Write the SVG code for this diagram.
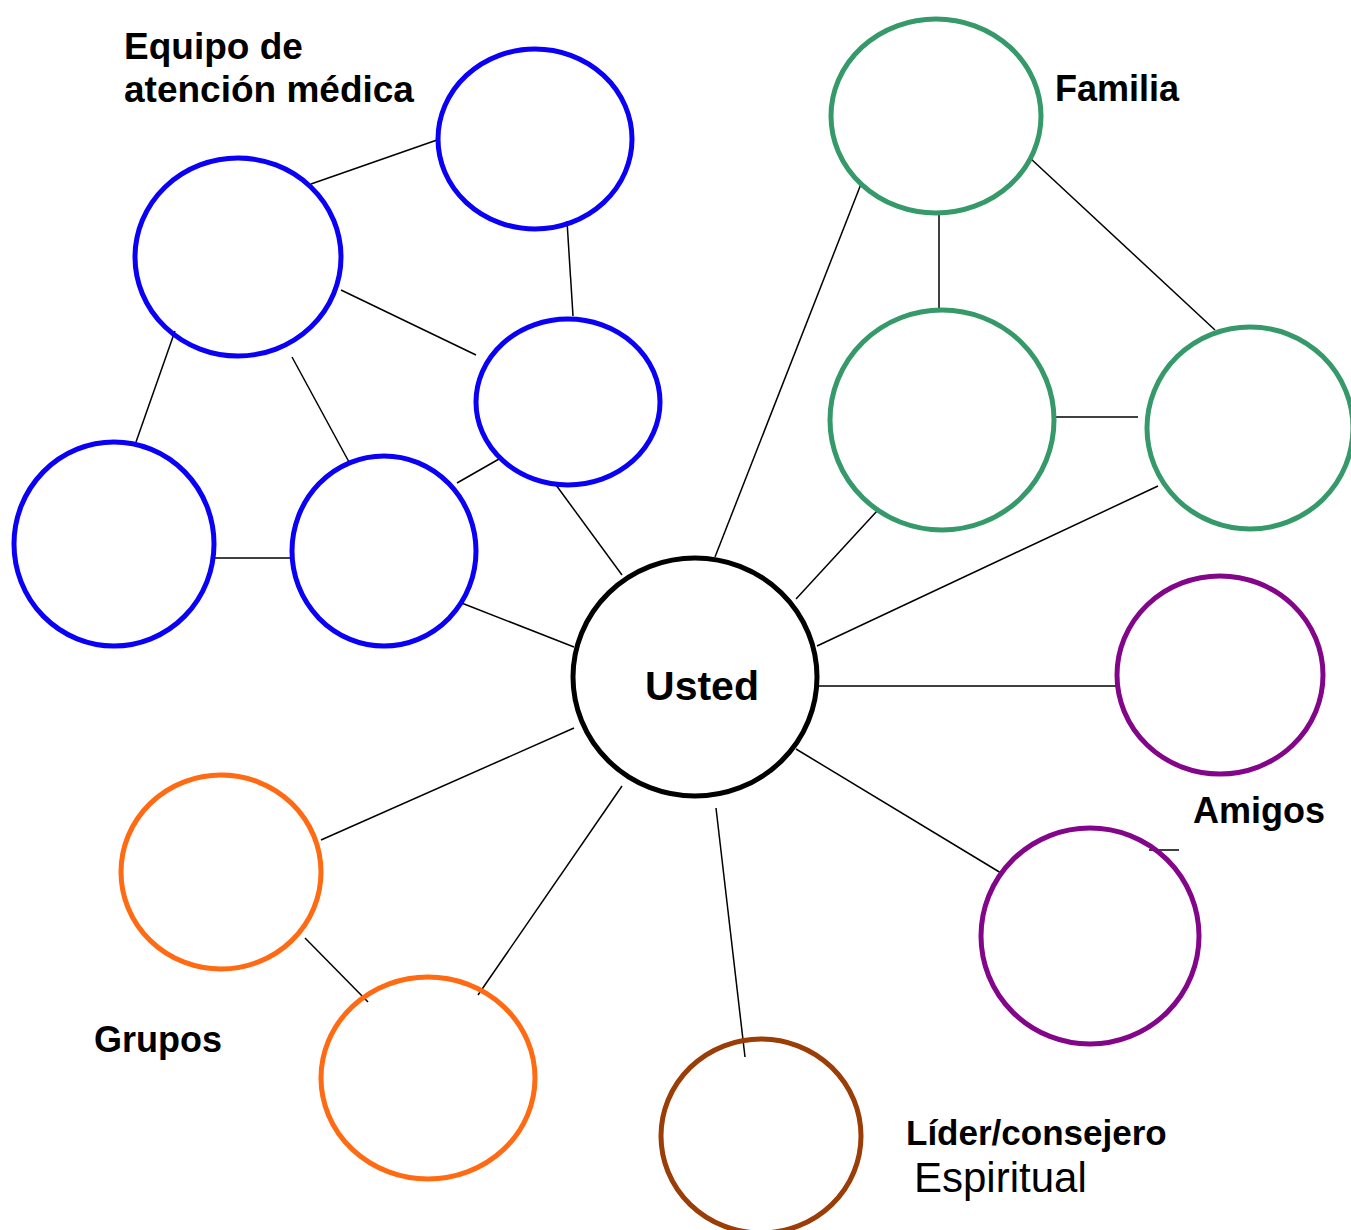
<svg xmlns="http://www.w3.org/2000/svg" width="1351" height="1230" viewBox="0 0 1351 1230">
<style>
.n{fill:none;stroke-width:5}
.b{stroke:#0a00f5}
.g{stroke:#36996a}
.p{stroke:#83068a}
.o{stroke:#ff6a12}
.r{stroke:#9a3d06}
.k{stroke:#000}
.c line{stroke:#000;stroke-width:1.5}
text{font-family:"Liberation Sans",Arial,sans-serif;fill:#000}
.t{font-weight:bold;font-size:36px}
.e{font-size:37px}
</style>
<rect width="1351" height="1230" fill="#fff"/>
<g id="connectors" class="c">
<line x1="311" y1="184" x2="437" y2="140"/>
<line x1="567" y1="221" x2="573" y2="316"/>
<line x1="341" y1="290" x2="476" y2="355"/>
<line x1="175" y1="331" x2="136" y2="442"/>
<line x1="292" y1="357" x2="349" y2="462"/>
<line x1="215" y1="558" x2="292" y2="558"/>
<line x1="457" y1="483" x2="499" y2="459"/>
<line x1="556" y1="485" x2="622" y2="575"/>
<line x1="459" y1="602" x2="574" y2="647"/>
<line x1="715" y1="557" x2="861" y2="184"/>
<line x1="939" y1="213" x2="939" y2="310"/>
<line x1="1030" y1="158" x2="1215" y2="330"/>
<line x1="1056" y1="417" x2="1138" y2="417"/>
<line x1="796" y1="599" x2="877" y2="511"/>
<line x1="817" y1="646" x2="1158" y2="486"/>
<line x1="819" y1="686" x2="1117" y2="686"/>
<line x1="796" y1="749" x2="1001" y2="873"/>
<line x1="1149" y1="850" x2="1179" y2="850"/>
<line x1="574" y1="728" x2="321" y2="840"/>
<line x1="622" y1="786" x2="478" y2="995"/>
<line x1="716" y1="808" x2="745" y2="1057"/>
<line x1="305" y1="938" x2="368" y2="1002"/>
</g>
<g id="med1"><ellipse class="n b" cx="535" cy="139" rx="97" ry="90"/></g>
<g id="med2"><ellipse class="n b" cx="238" cy="257" rx="103" ry="99"/></g>
<g id="med3"><ellipse class="n b" cx="568" cy="402" rx="92" ry="83"/></g>
<g id="med4"><ellipse class="n b" cx="114" cy="544" rx="100" ry="102"/></g>
<g id="med5"><ellipse class="n b" cx="384" cy="551" rx="92" ry="95"/></g>
<g id="fam1"><ellipse class="n g" cx="936" cy="116" rx="105" ry="97"/></g>
<g id="fam2"><ellipse class="n g" cx="942" cy="420" rx="112" ry="110"/></g>
<g id="fam3"><ellipse class="n g" cx="1250" cy="428" rx="103" ry="101"/></g>
<g id="usted"><ellipse class="n k" cx="695" cy="677" rx="122" ry="119"/><text x="702" y="700" text-anchor="middle" font-weight="bold" font-size="41">Usted</text></g>
<g id="ami1"><ellipse class="n p" cx="1220" cy="675" rx="103" ry="99"/></g>
<g id="ami2"><ellipse class="n p" cx="1090" cy="936" rx="109" ry="108"/></g>
<g id="gru1"><ellipse class="n o" cx="221" cy="872" rx="100" ry="97"/></g>
<g id="gru2"><ellipse class="n o" cx="428" cy="1078" rx="107" ry="101"/></g>
<g id="lider"><ellipse class="n r" cx="761" cy="1136" rx="100" ry="97"/></g>
<g id="labels">
<text class="t e" x="124" y="59">Equipo de</text>
<text class="t e" x="124" y="102">atención médica</text>
<text class="t" x="1055" y="101">Familia</text>
<text class="t" x="1193" y="823">Amigos</text>
<text class="t" x="94" y="1052">Grupos</text>
<text x="906" y="1145" font-weight="bold" font-size="35">Líder/consejero</text>
<text x="914" y="1192" font-size="42">Espiritual</text>
</g>
</svg>
